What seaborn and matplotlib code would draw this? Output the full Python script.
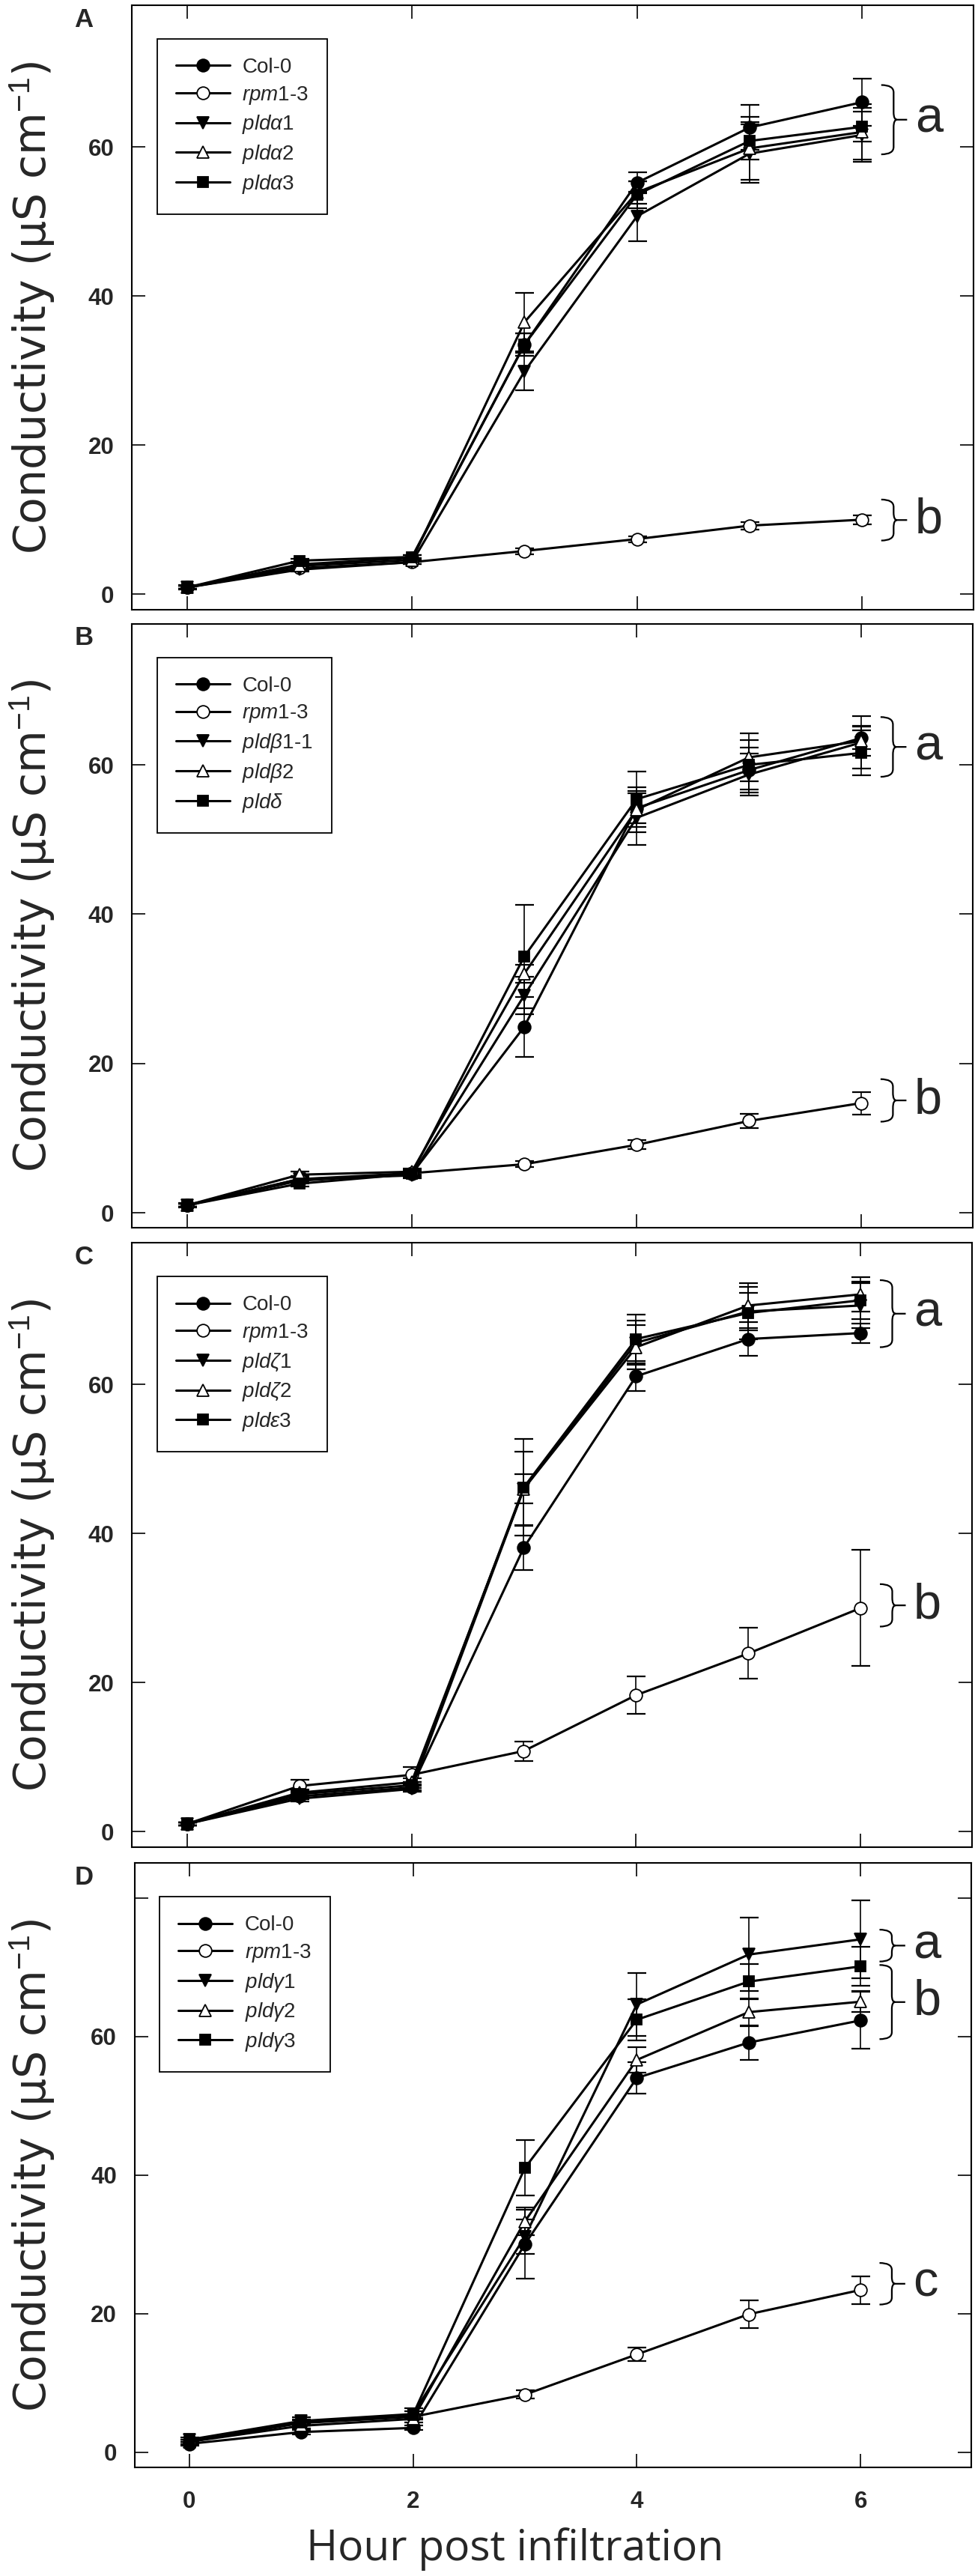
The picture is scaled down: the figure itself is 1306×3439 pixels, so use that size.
import numpy as np
import pandas as pd
import seaborn as sns
import matplotlib.pyplot as plt
from matplotlib.path import Path
from matplotlib.patches import PathPatch

# ---- data -------------------------------------------------------------
hours = [0, 1, 2, 3, 4, 5, 6]

# panel A
a_labels = ['Col-0', r'$\mathit{rpm}$1-3', r'$\mathit{pldα}$1', r'$\mathit{pldα2}$', r'$\mathit{pldα3}$']
a_means = [
    [0.9, 4.0, 4.9, 33.5, 55.2, 62.6, 66.0],
    [0.9, 3.5, 4.3, 5.8, 7.4, 9.2, 10.0],
    [0.9, 3.3, 4.3, 29.9, 50.7, 59.1, 61.6],
    [0.9, 3.8, 4.6, 36.5, 53.9, 59.8, 62.0],
    [0.9, 4.5, 5.0, 33.5, 53.6, 60.8, 62.7],
]
a_errs = [
    [0.3, 0.4, 0.4, 1.5, 1.4, 3.0, 3.2],
    [0.2, 0.3, 0.3, 0.4, 0.4, 0.5, 0.6],
    [0.2, 0.3, 0.3, 2.5, 3.3, 3.9, 3.6],
    [0.2, 0.3, 0.3, 3.9, 1.5, 4.2, 3.7],
    [0.2, 0.3, 0.3, 1.5, 1.8, 2.5, 2.0],
]
a_groups = [(59.0, 68.3, 'a'), (7.2, 12.7, 'b')]

# panel B
b_labels = ['Col-0', r'$\mathit{rpm}$1-3', r'$\mathit{pldβ}$1-1', r'$\mathit{pldβ}$2', r'$\mathit{pldδ}$']
b_means = [
    [1.0, 4.3, 5.2, 24.9, 54.2, 59.3, 63.6],
    [1.0, 4.5, 5.3, 6.5, 9.1, 12.3, 14.7],
    [1.0, 4.5, 5.0, 29.1, 52.9, 58.7, 63.0],
    [1.0, 5.1, 5.5, 32.0, 54.0, 61.0, 63.2],
    [1.0, 3.9, 5.2, 34.3, 55.4, 60.0, 61.6],
]
b_errs = [
    [0.3, 0.4, 0.4, 4.0, 2.0, 3.0, 1.5],
    [0.2, 0.4, 0.4, 0.4, 0.6, 1.0, 1.5],
    [0.2, 0.4, 0.4, 2.5, 3.6, 2.8, 3.5],
    [0.2, 0.4, 0.4, 1.2, 3.0, 3.2, 2.0],
    [0.2, 0.4, 0.4, 6.9, 3.7, 3.3, 3.0],
]
b_groups = [(58.4, 66.4, 'a'), (12.2, 17.9, 'b')]

# panel C
c_labels = ['Col-0', r'$\mathit{rpm}$1-3', r'$\mathit{pldζ}$1', r'$\mathit{pldζ}$2', r'$\mathit{pldε3}$']
c_means = [
    [1.0, 4.7, 5.9, 38.1, 61.1, 66.1, 66.9],
    [1.0, 6.1, 7.6, 10.8, 18.3, 23.9, 30.0],
    [1.0, 4.4, 5.7, 46.0, 65.6, 69.8, 70.6],
    [1.0, 5.2, 6.6, 46.0, 65.0, 70.6, 72.1],
    [1.0, 5.0, 6.2, 46.2, 66.1, 69.6, 71.3],
]
c_errs = [
    [0.2, 0.4, 0.4, 3.0, 2.0, 2.3, 1.3],
    [0.2, 0.8, 1.0, 1.3, 2.5, 3.4, 7.8],
    [0.2, 0.4, 0.4, 5.0, 3.0, 2.5, 3.0],
    [0.2, 0.4, 0.5, 2.0, 3.0, 3.0, 2.3],
    [0.2, 0.4, 0.4, 6.5, 3.3, 3.5, 2.5],
]
c_groups = [(65.0, 74.0, 'a'), (27.5, 33.2, 'b')]

# panel D
d_labels = ['Col-0', r'$\mathit{rpm}$1-3', r'$\mathit{pldγ}$1', r'$\mathit{pldγ2}$', r'$\mathit{pldγ3}$']
d_means = [
    [1.2, 2.9, 3.5, 30.0, 54.0, 59.1, 62.3],
    [1.5, 4.2, 5.1, 8.3, 14.1, 19.9, 23.4],
    [1.8, 4.5, 5.5, 31.1, 64.6, 71.8, 74.0],
    [1.5, 3.8, 4.8, 33.3, 56.6, 63.5, 65.0],
    [1.5, 4.3, 5.4, 41.0, 62.4, 67.9, 70.1],
]
d_errs = [
    [0.3, 0.3, 0.3, 5.0, 2.3, 2.5, 4.1],
    [0.3, 0.4, 0.4, 0.6, 1.0, 2.0, 2.0],
    [0.3, 0.5, 0.8, 2.5, 4.5, 5.3, 5.6],
    [0.3, 0.4, 0.5, 2.0, 1.8, 2.0, 1.5],
    [0.3, 0.4, 0.5, 4.0, 3.0, 2.5, 2.8],
]
d_groups = [(70.8, 75.4, 'a'), (59.6, 70.3, 'b'), (21.3, 27.3, 'c')]

markers = ['o', 'o', 'v', '^', 's']
faces = ['black', 'white', 'black', 'white', 'black']
msizes = [12, 12, 12, 12, 10]

# ---- style ------------------------------------------------------------
sns.set_style('ticks')
plt.rcParams['font.family'] = ['Liberation Sans', 'DejaVu Sans']
plt.rcParams['mathtext.fontset'] = 'custom'
plt.rcParams['mathtext.rm'] = 'Liberation Sans'
plt.rcParams['mathtext.it'] = 'Liberation Sans:italic'
plt.rcParams['mathtext.bf'] = 'Liberation Sans:bold'

W, H = 1306, 3439
fig = plt.figure(figsize=(W / 100, H / 100), dpi=100)

# pixel boxes of the panels: left, right, top, bottom
boxes = [(176, 1300, 7, 813.7), (176, 1299, 832.7, 1639),
         (176, 1298, 1659.3, 2465.7), (179.5, 1297, 2487.3, 3294)]
ylims = [(-2.05, 79.0), (-2.0, 78.9), (-2.08, 79.0), (-2.2, 85.0)]
panels = [
    ('A', a_labels, a_means, a_errs, a_groups),
    ('B', b_labels, b_means, b_errs, b_groups),
    ('C', c_labels, c_means, c_errs, c_groups),
    ('D', d_labels, d_means, d_errs, d_groups),
]


def draw_brace(ax, lo, hi, letter, xt=6.17, xs=6.28, xp=6.40, ry=1.0):
    mid = (lo + hi) / 2
    verts = [(xt, hi), (xs, hi), (xs, hi - ry),
             (xs, mid + ry), (xs, mid), (xs + 0.03, mid),
             (xp, mid),
             (xs + 0.03, mid), (xs, mid), (xs, mid - ry),
             (xs, lo + ry), (xs, lo), (xt, lo)]
    codes = [Path.MOVETO, Path.CURVE3, Path.CURVE3,
             Path.LINETO, Path.CURVE3, Path.CURVE3,
             Path.LINETO,
             Path.MOVETO, Path.CURVE3, Path.CURVE3,
             Path.LINETO, Path.CURVE3, Path.CURVE3]
    ax.add_patch(PathPatch(Path(verts, codes), fill=False, lw=1.6,
                           edgecolor='black', clip_on=False, zorder=5))
    ax.text(6.47, mid, letter, ha='left', va='center', fontsize=48,
            clip_on=False)


for i, (tag, labels, means, errs, groups) in enumerate(panels):
    l, r, t, b = boxes[i]
    ax = fig.add_axes([l / W, 1 - b / H, (r - l) / W, (b - t) / H])
    handles = []
    for k in range(len(labels)):
        ax.errorbar(hours, means[k], yerr=errs[k], fmt='none', ecolor='black',
                    elinewidth=1.2, capsize=9, capthick=1.6, zorder=2)
        sns.lineplot(x=hours, y=means[k], ax=ax, color='black',
                     marker=markers[k], markersize=msizes[k],
                     markerfacecolor=faces[k], markeredgecolor='black',
                     markeredgewidth=1.3, linewidth=2.2, zorder=3)
        line = ax.lines[-1]
        line.set_label(labels[k])
        handles.append(line)

    for g in groups:
        draw_brace(ax, *g)

    ax.set_xlim(-0.49, 6.99)
    ax.set_ylim(*ylims[i])
    ax.set_xticks([0, 2, 4, 6])
    if tag == 'D':
        ax.set_yticks([0, 20, 40, 60, 80])
        ax.set_yticklabels(['0', '20', '40', '60', ''], fontweight='bold')
        ax.set_xticklabels(['0', '2', '4', '6'], fontweight='bold')
    else:
        ax.set_yticks([0, 20, 40, 60])
        ax.set_yticklabels(['0', '20', '40', '60'], fontweight='bold')
        ax.set_xticklabels([])
    ax.tick_params(axis='both', direction='in', length=13, width=1.4,
                   top=True, right=True, labelsize=22.5)
    ax.tick_params(axis='y', pad=17)
    ax.tick_params(axis='x', pad=22)
    for sp in ax.spines.values():
        sp.set_linewidth(1.5)
        sp.set_color('black')
    ax.set_xlabel('')
    ax.set_ylabel('')

    hgt = b - t
    wid = r - l
    leg = ax.legend(handles, labels, loc='upper left',
                    bbox_to_anchor=(33.5 / wid, 1 - 45 / hgt),
                    borderaxespad=0, frameon=True, fancybox=False,
                    edgecolor='black', framealpha=1, fontsize=20,
                    handlelength=2.6, handletextpad=0.6, labelspacing=0.35,
                    borderpad=0.9)
    leg.get_frame().set_linewidth(1.3)

    fig.text(112 / W, 1 - (t + 19) / H, tag, ha='center', va='center',
             fontsize=25, fontweight='bold')
    fig.text(43 / W, 1 - ((t + b) / 2) / H, r'Conductivity (μS cm$^{-1}$)',
             rotation=90, ha='center', va='center', fontsize=42,
             family=['DejaVu Sans'])

fig.text(688 / W, 1 - 3403 / H, 'Hour post infiltration', ha='center',
         va='center', fontsize=41, family=['Open Sans', 'DejaVu Sans'])

fig.savefig('out.png', dpi=100)
